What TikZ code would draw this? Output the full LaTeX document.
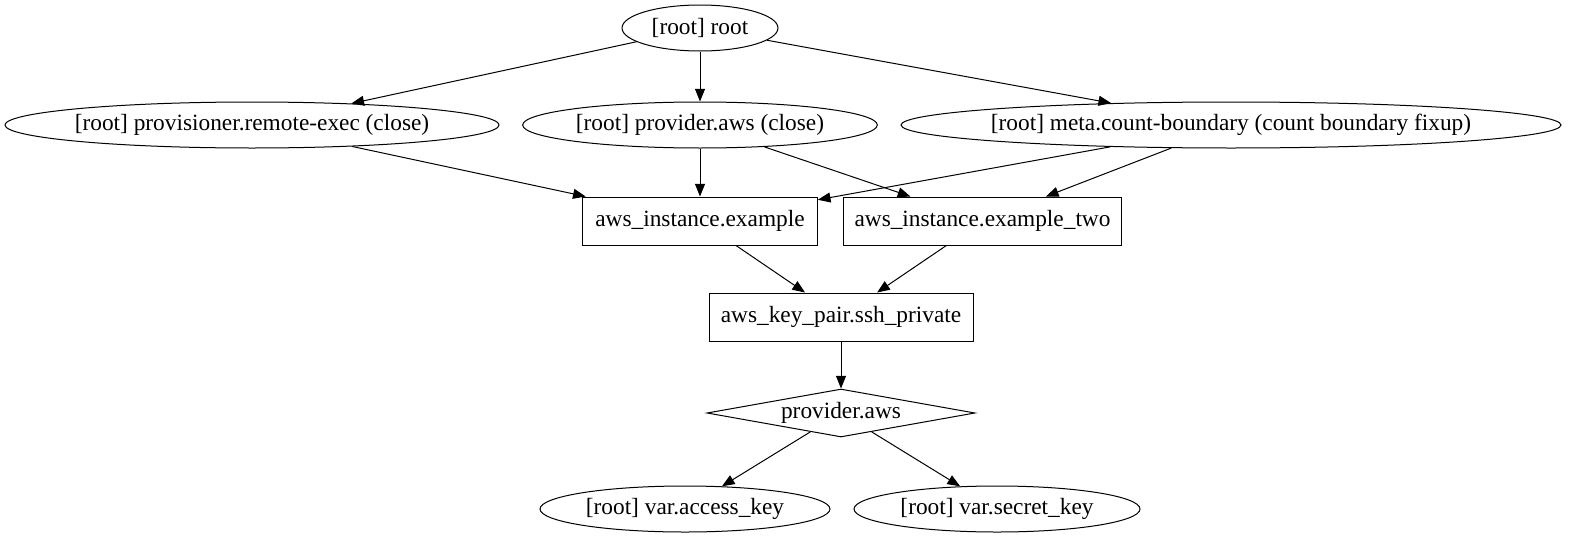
\documentclass[tikz,border=0pt]{standalone}
\usepackage{fontspec}
\setmainfont{Liberation Serif}
\usetikzlibrary{shapes.geometric, arrows.meta}

\begin{document}
\begin{tikzpicture}[x=0.75pt, y=-0.75pt, font=\fontsize{17.5pt}{20pt}\selectfont,
	every node/.style={draw, line width=0.75pt, inner sep=0pt},
	oval/.style={ellipse, inner xsep=-6pt, minimum height=34.5pt},
	box/.style={rectangle, minimum height=36pt},
	dep/.style={line width=0.75pt, -{Triangle[length=9.5pt,width=7.5pt]}}]

	% page size
	\useasboundingbox (0,0) rectangle (1569,539);

	% top row
	\node[oval, minimum width=117pt] (root) at (700,28) {[root] root};
	\node[oval, minimum width=370.5pt] (provisioner) at (252,125) {[root] provisioner.remote-exec (close)};
	\node[oval, minimum width=266pt] (providerclose) at (700,125) {[root] provider.aws (close)};
	\node[oval, minimum width=495pt] (meta) at (1231,125) {[root] meta.count-boundary (count boundary fixup)};

	% resources
	\node[box, minimum width=176pt] (example) at (700,221) {aws\_instance.example};
	\node[box, minimum width=209pt] (exampletwo) at (982.5,221) {aws\_instance.example\_two};
	\node[box, minimum width=198pt] (keypair) at (841,317) {aws\_key\_pair.ssh\_private};

	% provider and its variables
	\node[diamond, aspect=5.6, minimum width=201pt, minimum height=36pt] (provider) at (841,413) {provider.aws};
	\node[oval, minimum width=217.5pt] (accesskey) at (685,509) {[root] var.access\_key};
	\node[oval, minimum width=214.5pt] (secretkey) at (997,509) {[root] var.secret\_key};

	% edges
	\foreach \a/\b in {root/provisioner, root/providerclose, root/meta,
		provisioner/example, providerclose/example, providerclose/exampletwo,
		meta/example, meta/exampletwo, example/keypair, exampletwo/keypair,
		keypair/provider, provider/accesskey, provider/secretkey}
		\draw[dep] (\a) -- (\b);

\end{tikzpicture}
\end{document}
